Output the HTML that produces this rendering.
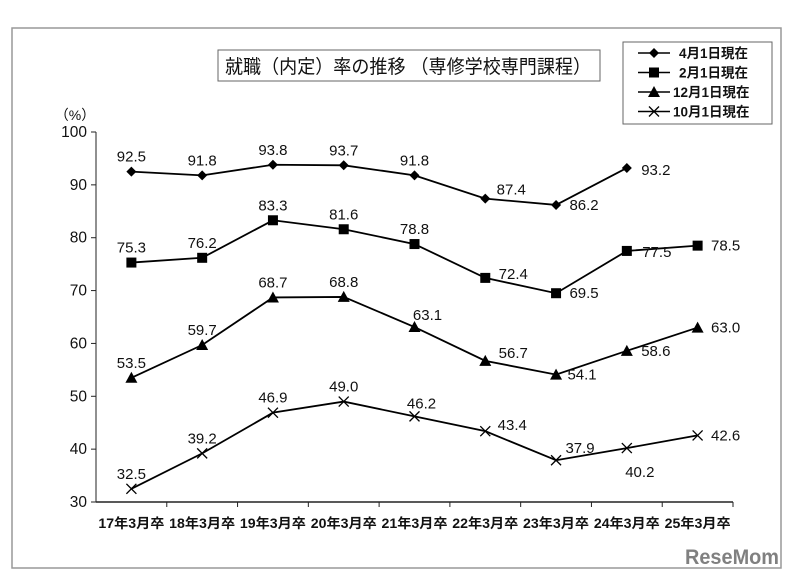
<!DOCTYPE html>
<html><head><meta charset="utf-8">
<style>
html,body{margin:0;padding:0;background:#fff;width:800px;height:582px;overflow:hidden}
svg text{font-family:"Liberation Sans","Noto Sans CJK JP",sans-serif;fill:#111}
</style></head><body>
<svg id="chart" width="800" height="582" viewBox="0 0 800 582">
<rect x="12" y="28" width="769" height="540" fill="#fff" stroke="#999" stroke-width="1.5"/>
<g>
<rect x="218" y="50" width="382" height="31" fill="#fff" stroke="#666"/>
<text x="225" y="73" font-size="19" textLength="366" lengthAdjust="spacingAndGlyphs">就職（内定）率の推移 （専修学校専門課程）</text>
</g>
<text x="75" y="120" font-size="14" text-anchor="middle">（%）</text>
<g id="axes"></g>
<g id="series"></g>
<g id="legend"></g>
<text x="779" y="564" font-size="21" font-weight="bold" text-anchor="end" textLength="94" lengthAdjust="spacingAndGlyphs" style="fill:#808080">ReseMom</text>
</svg>
<script>
const categories=["17年3月卒","18年3月卒","19年3月卒","20年3月卒","21年3月卒","22年3月卒","23年3月卒","24年3月卒","25年3月卒"];
const yTicks=[30,40,50,60,70,80,90,100];
const seriesNames=["4月1日現在","2月1日現在","12月1日現在","10月1日現在"];
const seriesMarkers=["diamond","square","triangle","cross"];
const apr=[92.5,91.8,93.8,93.7,91.8,87.4,86.2,93.2];
const feb=[75.3,76.2,83.3,81.6,78.8,72.4,69.5,77.5,78.5];
const dec=[53.5,59.7,68.7,68.8,63.1,56.7,54.1,58.6,63.0];
const oct=[32.5,39.2,46.9,49.0,46.2,43.4,37.9,40.2,42.6];
const allSeries=[apr,feb,dec,oct];
// label offsets (layout only)
const U=[0,-15],R=[28,0];
const labelOffsets=[
 [U,U,U,U,U,[26,-9],R,[29,2]],
 [U,U,U,U,U,[28,-4],R,[30,1],R],
 [U,U,U,U,[13,-12],[28,-8],[26,0],[29,0],R],
 [U,U,U,U,[7,-13],[27,-6],[24,-12],[13,24],R]
];
const X0=96,X1=733,Y0=502,Y1=132,YMIN=30,YMAX=100;
const bw=(X1-X0)/categories.length;
const xs=i=>X0+bw*(i+0.5);
const ys=v=>Y0-(v-YMIN)/(YMAX-YMIN)*(Y0-Y1);
const NS="http://www.w3.org/2000/svg";
function mk(tag,attrs,parent){const e=document.createElementNS(NS,tag);for(const k in attrs)e.setAttribute(k,attrs[k]);parent.appendChild(e);return e;}
const axes=document.getElementById('axes');
let a=mk('line',{x1:X0,y1:Y1,x2:X0,y2:Y0,stroke:'#222','stroke-width':1},axes);


a=mk('line',{x1:X0,y1:Y0,x2:X1,y2:Y0,stroke:'#222','stroke-width':1.5},axes);


yTicks.forEach(t=>{
 const y=ys(t);
 let l=mk('line',{x1:X0-5,y1:y,x2:X0,y2:y,stroke:'#222'},axes);
 
 
 let tx=mk('text',{x:X0-9,y:y+5,'font-size':15.5,'text-anchor':'end'},axes);
 tx.textContent=t;
 
 
});
categories.forEach((c,i)=>{
 const x=X0+bw*(i+1);
 let l=mk('line',{x1:x,y1:Y0,x2:x,y2:Y0+5,stroke:'#222'},axes);
 
 
 let tx=mk('text',{x:xs(i),y:Y0+26,'font-size':13.5,'font-weight':'bold','text-anchor':'middle',textLength:66,lengthAdjust:'spacingAndGlyphs'},axes);
 tx.textContent=c;
 
 
});
function marker(type,x,y,p){
 let e;
 if(type==='diamond')e=mk('path',{d:`M${x},${y-5}L${x+5},${y}L${x},${y+5}L${x-5},${y}Z`,fill:'#000'},p);
 else if(type==='square')e=mk('rect',{x:x-5,y:y-5,width:10,height:10,fill:'#000'},p);
 else if(type==='triangle')e=mk('path',{d:`M${x},${y-6}L${x+6},${y+5}L${x-6},${y+5}Z`,fill:'#000'},p);
 else e=mk('path',{d:`M${x-5},${y-5}L${x+5},${y+5}M${x+5},${y-5}L${x-5},${y+5}`,stroke:'#000','stroke-width':1.3,fill:'none'},p);
 return e;
}
const sg=document.getElementById('series');
allSeries.forEach((data,s)=>{
 const g=mk('g',{},sg);
 
 
 const pl=mk('polyline',{points:data.map((v,i)=>xs(i)+','+ys(v)).join(' '),fill:'none',stroke:'#000','stroke-width':1.8},g);
 
 
 data.forEach((v,i)=>{
  const m=marker(seriesMarkers[s],xs(i),ys(v),g);
  
  
  const o=(labelOffsets[s]&&labelOffsets[s][i])||U;
  const t=mk('text',{x:xs(i)+o[0],y:ys(v)+o[1]+5,'font-size':15,'text-anchor':'middle'},g);
  t.textContent=v.toFixed(1);
  
  
 });
});
const lg=document.getElementById('legend');
const lb=mk('rect',{x:623,y:42,width:149,height:82,fill:'#fff',stroke:'#666'},lg);


seriesNames.forEach((n,s)=>{
 const y=53+s*19.5;
 const g=mk('g',{},lg);
 
 
 mk('line',{x1:638,y1:y,x2:670,y2:y,stroke:'#000','stroke-width':1.5},g);
 marker(seriesMarkers[s],654,y,g);
 const t=mk('text',{x:s<2?679:673,y:y+5,'font-size':13.5,'font-weight':'bold'},g);
 t.textContent=n;
});
</script>
</body></html>
